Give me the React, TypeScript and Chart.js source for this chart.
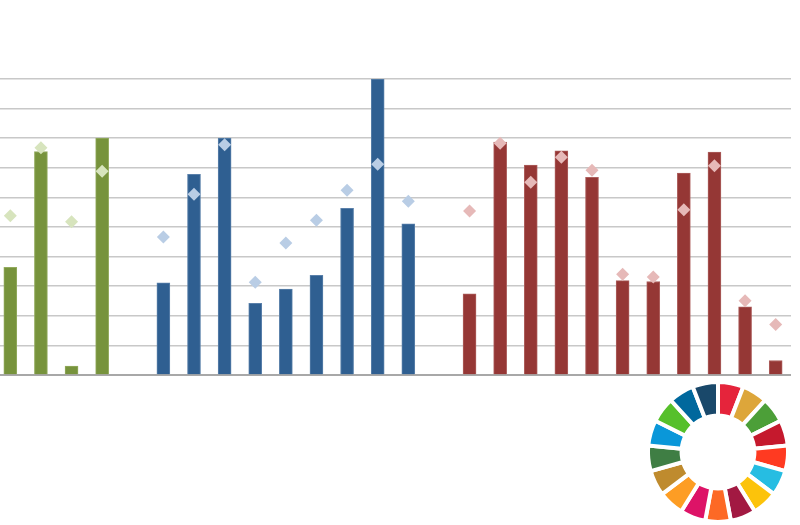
import React, { useEffect, useRef } from "react";
import { Chart, registerables } from "chart.js";

Chart.register(...registerables);

// Categories: three groups of goals with an empty slot between groups
const categories: string[] = [
  "G1", "G2", "G3", "G4", "",
  "B1", "B2", "B3", "B4", "B5", "B6", "B7", "B8", "B9", "",
  "R1", "R2", "R3", "R4", "R5", "R6", "R7", "R8", "R9", "R10", "R11",
];

// Group of each category (0 = green, 1 = blue, 2 = red, -1 = gap)
const groups: number[] = [
  0, 0, 0, 0, -1,
  1, 1, 1, 1, 1, 1, 1, 1, 1, -1,
  2, 2, 2, 2, 2, 2, 2, 2, 2, 2, 2,
];

// Bar values
const barValues: (number | null)[] = [
  3.64, 7.55, 0.3, 8.0, null,
  3.11, 6.78, 8.0, 2.42, 2.9, 3.37, 5.63, 10.0, 5.11, null,
  2.74, 7.87, 7.09, 7.57, 6.68, 3.19, 3.16, 6.82, 7.53, 2.3, 0.49,
];

// Diamond marker values
const markerValues: (number | null)[] = [
  5.38, 7.68, 5.18, 6.88, null,
  4.66, 6.11, 7.78, 3.13, 4.46, 5.23, 6.24, 7.12, 5.87, null,
  5.54, 7.83, 6.51, 7.36, 6.92, 3.4, 3.31, 5.58, 7.07, 2.51, 1.71,
];

const yTicksMin = 0;
const yTicksMax = 10;
const yTickStep = 1;

const barColors = ["#77933c", "#2f5f91", "#953735"];
const barEdgeColors = ["#93ab5e", "#5a80aa", "#ad5f5d"];
const markerColors = ["#d7e4bd", "#b9cde5", "#e6b9b8"];

// SDG wheel: 17 equal segments
const sdgSegments: number[] = [1, 1, 1, 1, 1, 1, 1, 1, 1, 1, 1, 1, 1, 1, 1, 1, 1];
const sdgColors: string[] = [
  "#E5243B", "#DDA63A", "#4C9F38", "#C5192D", "#FF3A21", "#26BDE2",
  "#FCC30B", "#A21942", "#FD6925", "#DD1367", "#FD9D24", "#BF8B2E",
  "#3F7E44", "#0A97D9", "#56C02B", "#00689D", "#19486A",
];

export default function App() {
  const mainRef = useRef<HTMLCanvasElement | null>(null);
  const wheelRef = useRef<HTMLCanvasElement | null>(null);

  useEffect(() => {
    if (!mainRef.current || !wheelRef.current) return;
    const pick = (arr: string[]) => groups.map((g) => (g >= 0 ? arr[g] : "rgba(0,0,0,0)"));

    const main = new Chart(mainRef.current, {
      type: "bar",
      data: {
        labels: categories,
        datasets: [
          {
            type: "line",
            label: "markers",
            data: markerValues,
            showLine: false,
            pointStyle: "rectRot",
            pointRadius: 6.5,
            pointBorderWidth: 0,
            pointBackgroundColor: pick(markerColors),
            pointBorderColor: pick(markerColors),
            order: 0,
          } as any,
          {
            type: "bar",
            label: "bars",
            data: barValues,
            backgroundColor: pick(barColors),
            borderColor: pick(barEdgeColors),
            borderWidth: 1,
            barThickness: 13,
            order: 1,
          },
        ],
      },
      options: {
        responsive: false,
        animation: false,
        devicePixelRatio: 1,
        layout: { autoPadding: false, padding: { top: 79, bottom: 150, left: 0, right: 0 } },
        plugins: { legend: { display: false }, tooltip: { enabled: false } },
        scales: {
          x: {
            grid: { display: false, drawTicks: false },
            ticks: { display: false },
            border: { display: true, color: "#a8a8a8", width: 2 },
          },
          y: {
            min: yTicksMin,
            max: yTicksMax,
            ticks: { display: false, stepSize: yTickStep },
            grid: { color: "#c8c8c8", lineWidth: 1.6, drawTicks: false },
            border: { display: false },
          },
        },
      },
    });

    const wheel = new Chart(wheelRef.current, {
      type: "doughnut",
      data: {
        labels: sdgColors.map((_, i) => `SDG ${i + 1}`),
        datasets: [
          {
            data: sdgSegments,
            backgroundColor: sdgColors,
            borderColor: "#ffffff",
            borderWidth: 4,
          },
        ],
      },
      options: {
        responsive: false,
        animation: false,
        devicePixelRatio: 1,
        cutout: "52%",
        plugins: { legend: { display: false }, tooltip: { enabled: false } },
      },
    });

    return () => {
      main.destroy();
      wheel.destroy();
    };
  }, []);

  return (
    <div
      style={{
        position: "fixed",
        left: 0,
        top: 0,
        width: 800,
        height: 525,
        overflow: "hidden",
        background: "#ffffff",
      }}
    >
      <canvas
        ref={mainRef}
        width={796}
        height={525}
        style={{ position: "absolute", left: -5, top: 0, width: 796, height: 525 }}
      />
      <canvas
        ref={wheelRef}
        width={144}
        height={144}
        style={{ position: "absolute", left: 646, top: 380, width: 144, height: 144 }}
      />
    </div>
  );
}
